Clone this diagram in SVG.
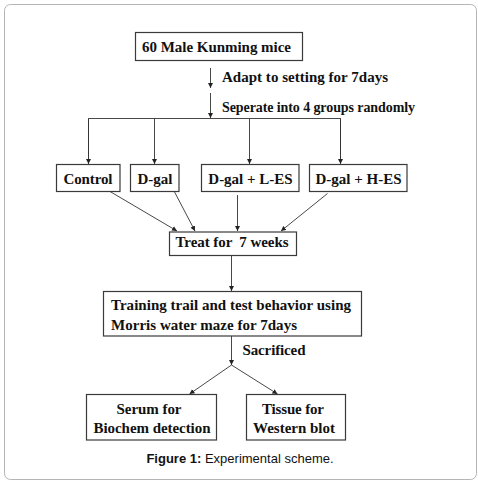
<svg xmlns="http://www.w3.org/2000/svg" width="478" height="483" viewBox="0 0 478 483">
<defs>
<marker id="ah" markerWidth="6" markerHeight="6" refX="5" refY="3" orient="auto" markerUnits="userSpaceOnUse">
<path d="M0,0.5 L5,3 L0,5.5 Z" fill="#222"/>
</marker>
<style>
.box{fill:#fff;stroke:#3a3a3a;stroke-width:1.2}
.t{font-family:"Liberation Serif","Times New Roman",serif;font-weight:bold;font-size:15px;fill:#111}
.s{font-size:14px}
.c{text-anchor:middle}
.ln{fill:none;stroke:#333;stroke-width:0.9}
.ar{fill:none;stroke:#333;stroke-width:0.9;marker-end:url(#ah)}
.cap{font-family:"Liberation Sans",Arial,sans-serif;font-size:13px;fill:#111;text-anchor:middle}
</style>
</defs>
<rect x="4.5" y="4.5" width="472" height="475" rx="6" fill="#fff" stroke="#b5b5b5" stroke-width="1"/>
<g id="connectors">
<line class="ar" x1="210.5" y1="68" x2="210.5" y2="88"/>
<line class="ar" x1="210.5" y1="93" x2="210.5" y2="118"/>
<polyline class="ln" points="88.5,163 88.5,118.5 340.5,118.5 340.5,163"/>
<line class="ar" x1="88.5" y1="118.5" x2="88.5" y2="164"/>
<line class="ar" x1="154.5" y1="118.5" x2="154.5" y2="164"/>
<line class="ar" x1="249.5" y1="118.5" x2="249.5" y2="164"/>
<line class="ar" x1="340.5" y1="118.5" x2="340.5" y2="164"/>
<line class="ar" x1="107.5" y1="190" x2="177" y2="231"/>
<line class="ar" x1="173.5" y1="190" x2="195" y2="231"/>
<line class="ar" x1="237.5" y1="195" x2="237.5" y2="231"/>
<line class="ar" x1="327.5" y1="193.5" x2="281" y2="231"/>
<line class="ar" x1="231.5" y1="255" x2="231.5" y2="291"/>
<line class="ar" x1="231.5" y1="336" x2="231.5" y2="365"/>
<line class="ar" x1="231.5" y1="365" x2="189.5" y2="394"/>
<line class="ar" x1="231.5" y1="365" x2="277.5" y2="394"/>
</g>
<text class="t" x="222" y="81.5" textLength="166">Adapt to setting for 7days</text>
<text class="t s" x="222" y="111.5" textLength="193">Seperate into 4 groups randomly</text>
<text class="t" x="242.5" y="355" textLength="63">Sacrificed</text>
<g id="mice">
<rect class="box" x="135.5" y="32.5" width="167" height="28"/>
<text class="t" x="142" y="52" textLength="149">60 Male Kunming mice</text>
</g>
<g id="control">
<rect class="box" x="56.5" y="164.5" width="63.5" height="27"/>
<text class="t c" x="88" y="183.5" textLength="49">Control</text>
</g>
<g id="dgal">
<rect class="box" x="130.5" y="164.5" width="48.5" height="27"/>
<text class="t c" x="155" y="183.5">D-gal</text>
</g>
<g id="dgal-les">
<rect class="box" x="201.5" y="164.5" width="97.5" height="27"/>
<text class="t c" x="250.5" y="183.5">D-gal + L-ES</text>
</g>
<g id="dgal-hes">
<rect class="box" x="309.5" y="164.5" width="97.5" height="27"/>
<text class="t c" x="358.5" y="183.5">D-gal + H-ES</text>
</g>
<g id="treat">
<rect class="box" x="169.5" y="232" width="127" height="23.5"/>
<text class="t" x="175.5" y="247" textLength="113" xml:space="preserve">Treat for  7 weeks</text>
</g>
<g id="training">
<rect class="box" x="103.5" y="291.5" width="258" height="44.5"/>
<text class="t" x="111" y="310" textLength="240">Training trail and test behavior using</text>
<text class="t" x="111" y="329.5" textLength="186">Morris water maze for 7days</text>
</g>
<g id="serum">
<rect class="box" x="86.5" y="394.5" width="130" height="45.5"/>
<text class="t c" x="149" y="413.5" textLength="65">Serum for</text>
<text class="t c" x="152" y="433" textLength="117">Biochem detection</text>
</g>
<g id="tissue">
<rect class="box" x="246.5" y="394.5" width="99" height="45.5"/>
<text class="t c" x="293" y="413.5" textLength="62">Tissue for</text>
<text class="t c" x="294" y="433" textLength="82">Western blot</text>
</g>
<text class="cap" x="240" y="463"><tspan font-weight="bold">Figure 1:</tspan> Experimental scheme.</text>
</svg>
